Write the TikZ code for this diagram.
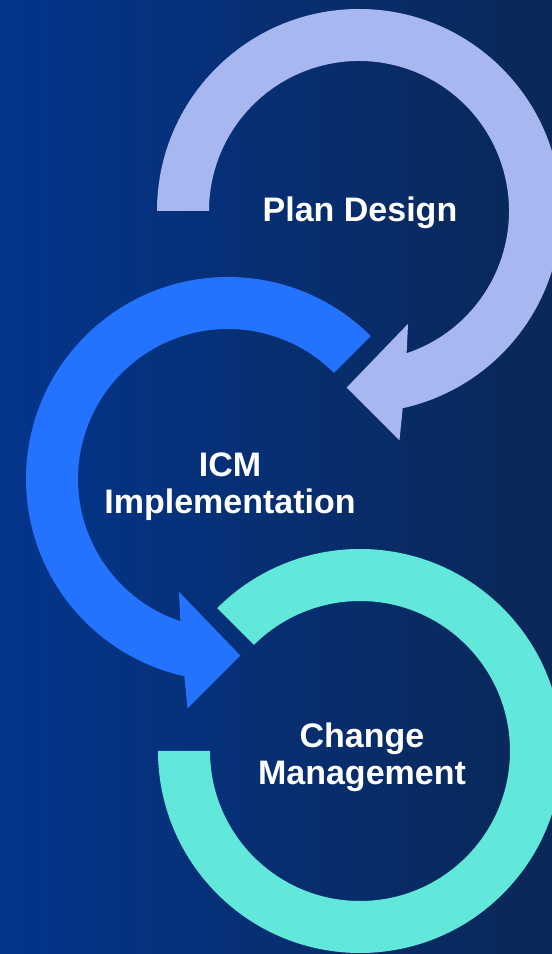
\documentclass[tikz,border=0pt]{standalone}
\usepackage{fontspec}
\setmainfont{Liberation Sans}
\usepackage{tikz}
\usetikzlibrary{positioning}
\definecolor{bgleft}{HTML}{04358C}
\definecolor{bgright}{HTML}{0A2857}
\definecolor{plancol}{HTML}{A9B7F0}
\definecolor{icmcol}{HTML}{2473FF}
\definecolor{changecol}{HTML}{62E8DA}
\tikzstyle{lbl}=[text=white,font=\bfseries\fontsize{34}{37}\selectfont,align=center,inner sep=0pt,anchor=base]

\begin{document}
\begin{tikzpicture}[x=1pt,y=1pt]
\shade[left color=bgleft,right color=bgright] (0,0) rectangle (552,954);
\useasboundingbox (0,0) rectangle (552,954);
\coordinate (P) at (359,743);
\coordinate (I) at (228,475);
\coordinate (C) at (360,203);
\begin{scope}[shift={(C)}]
\fill[changecol] (135:202pt) arc[start angle=135,end angle=-180,radius=202pt]
  -- (180:150pt) arc[start angle=-180,end angle=135,radius=150pt] -- cycle;
\end{scope}
\begin{scope}[shift={(I)}]
\fill[icmcol] (45:202pt) arc[start angle=45,end angle=257.5,radius=202pt]
  -- (260:233pt) -- (274:177pt) -- (246.5:123pt) -- (251.5:150pt)
  arc[start angle=251.5,end angle=45,radius=150pt] -- cycle;
\end{scope}
\begin{scope}[shift={(P)}]
\fill[plancol] (180:202pt) arc[start angle=180,end angle=-77.5,radius=202pt]
  -- (-80:233pt) -- (-94:177pt) -- (-66.5:123pt) -- (-71.5:150pt)
  arc[start angle=-71.5,end angle=180,radius=150pt] -- cycle;
\end{scope}
\node[lbl] (plan) at (360,732) {Plan Design};
\node[lbl] (icm) at (230,440) {ICM\\Implementation};
\node[lbl] (change) at (362,169) {Change\\Management};
\end{tikzpicture}
\end{document}
